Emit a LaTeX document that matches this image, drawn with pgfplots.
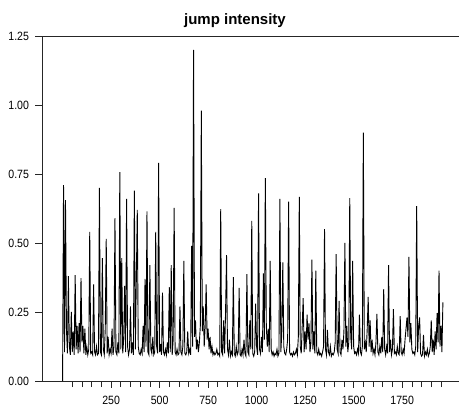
\documentclass[border=0pt]{standalone}
\usepackage{fontspec}
\setmainfont{Liberation Sans}[FakeStretch=0.88]
\newfontfamily\titlefont{Liberation Sans}
\usepackage{pgfplots}
\pgfplotsset{compat=1.18}

\begin{document}
\begin{tikzpicture}
\useasboundingbox (-42bp,-32bp) rectangle (417bp,381bp);
\begin{axis}[
  scale only axis, width=417bp, height=345bp,
  at={(0,0)}, anchor=south west,
  xmin=-106, xmax=2043, ymin=0, ymax=1.25,
  axis x line*=bottom, axis y line*=left,
  axis line style={line width=0.8bp, black!85},
  every tick/.style={line width=0.7bp, black!85},
  tick align=outside,
  xtick={250,500,750,1000,1250,1500,1750},
  minor xtick={50,100,...,1950},
  ytick={0,0.25,0.5,0.75,1,1.25},
  major tick length=6.5bp, minor tick length=6bp,
  yticklabel style={/pgf/number format/fixed, /pgf/number format/fixed zerofill,
    /pgf/number format/precision=2, xshift=-3bp},
  xticklabel style={yshift=-5bp},
  /pgf/number format/assume math mode=true,
  /pgf/number format/1000 sep={},
  tick label style={font=\fontsize{12bp}{12bp}\selectfont},
  clip=false,
]
% one value every 5 steps
\addplot[black, line width=0.9bp, line join=miter] table[row sep=\\, header=false, x expr=\coordindex*5, y index=0] {
0.00\\0.71\\0.105\\0.655\\0.19\\0.10\\0.38\\0.125\\0.095\\0.25\\
0.105\\0.18\\0.095\\0.384\\0.115\\0.20\\0.10\\0.21\\0.105\\0.373\\
0.14\\0.20\\0.10\\0.19\\0.095\\0.125\\0.095\\0.115\\0.54\\0.10\\
0.105\\0.095\\0.35\\0.105\\0.095\\0.125\\0.095\\0.10\\0.70\\0.105\\
0.095\\0.445\\0.115\\0.095\\0.19\\0.515\\0.10\\0.16\\0.095\\0.115\\
0.10\\0.19\\0.095\\0.125\\0.59\\0.105\\0.095\\0.14\\0.10\\0.757\\
0.115\\0.445\\0.10\\0.15\\0.345\\0.105\\0.66\\0.125\\0.095\\0.115\\
0.27\\0.10\\0.14\\0.095\\0.69\\0.115\\0.36\\0.62\\0.125\\0.10\\
0.095\\0.115\\0.10\\0.20\\0.105\\0.37\\0.125\\0.615\\0.105\\0.095\\
0.42\\0.115\\0.10\\0.16\\0.095\\0.105\\0.54\\0.125\\0.10\\0.79\\
0.105\\0.125\\0.095\\0.32\\0.105\\0.095\\0.115\\0.095\\0.14\\0.10\\
0.34\\0.105\\0.42\\0.095\\0.15\\0.627\\0.105\\0.095\\0.115\\0.095\\
0.10\\0.27\\0.105\\0.095\\0.125\\0.435\\0.10\\0.095\\0.105\\0.18\\
0.10\\0.115\\0.095\\0.49\\0.125\\1.20\\0.16\\0.22\\0.115\\0.15\\
0.105\\0.14\\0.20\\0.98\\0.18\\0.27\\0.125\\0.20\\0.35\\0.15\\
0.19\\0.115\\0.16\\0.10\\0.125\\0.095\\0.105\\0.095\\0.10\\0.115\\
0.095\\0.10\\0.09\\0.623\\0.105\\0.095\\0.22\\0.10\\0.25\\0.456\\
0.115\\0.095\\0.15\\0.09\\0.105\\0.095\\0.376\\0.10\\0.09\\0.125\\
0.095\\0.105\\0.337\\0.095\\0.09\\0.115\\0.095\\0.15\\0.10\\0.09\\
0.387\\0.105\\0.095\\0.22\\0.115\\0.58\\0.10\\0.09\\0.105\\0.28\\
0.125\\0.095\\0.68\\0.115\\0.10\\0.16\\0.105\\0.39\\0.15\\0.735\\
0.20\\0.125\\0.19\\0.105\\0.435\\0.115\\0.095\\0.105\\0.09\\0.10\\
0.095\\0.115\\0.09\\0.10\\0.66\\0.105\\0.18\\0.43\\0.125\\0.10\\
0.095\\0.115\\0.15\\0.65\\0.105\\0.095\\0.10\\0.09\\0.105\\0.095\\
0.10\\0.115\\0.095\\0.16\\0.667\\0.125\\0.10\\0.20\\0.30\\0.105\\
0.18\\0.115\\0.24\\0.15\\0.21\\0.105\\0.14\\0.44\\0.115\\0.18\\
0.10\\0.40\\0.105\\0.095\\0.115\\0.095\\0.10\\0.09\\0.105\\0.125\\
0.55\\0.115\\0.095\\0.185\\0.105\\0.095\\0.125\\0.09\\0.10\\0.095\\
0.105\\0.14\\0.46\\0.115\\0.10\\0.29\\0.105\\0.095\\0.15\\0.115\\
0.18\\0.50\\0.125\\0.20\\0.105\\0.14\\0.663\\0.16\\0.115\\0.435\\
0.125\\0.10\\0.105\\0.095\\0.115\\0.10\\0.24\\0.105\\0.095\\0.125\\
0.90\\0.115\\0.14\\0.105\\0.19\\0.305\\0.125\\0.22\\0.105\\0.15\\
0.10\\0.115\\0.095\\0.14\\0.243\\0.105\\0.095\\0.125\\0.10\\0.16\\
0.105\\0.333\\0.115\\0.095\\0.125\\0.10\\0.42\\0.105\\0.15\\0.095\\
0.115\\0.26\\0.10\\0.105\\0.095\\0.125\\0.10\\0.095\\0.235\\0.105\\
0.095\\0.115\\0.10\\0.15\\0.19\\0.23\\0.16\\0.45\\0.14\\0.21\\
0.115\\0.10\\0.105\\0.095\\0.125\\0.634\\0.105\\0.20\\0.23\\0.10\\
0.09\\0.095\\0.167\\0.09\\0.105\\0.095\\0.115\\0.09\\0.10\\0.125\\
0.22\\0.105\\0.15\\0.095\\0.18\\0.115\\0.246\\0.14\\0.40\\0.125\\
0.20\\0.105\\0.285\\
};
\draw[line width=0.8bp, black!85] (rel axis cs:0,1) -- (rel axis cs:1,1);
\end{axis}
\node[anchor=base, font=\titlefont\bfseries\fontsize{15bp}{15bp}\selectfont] at (193bp,356bp) {jump intensity};
\end{tikzpicture}
\end{document}
